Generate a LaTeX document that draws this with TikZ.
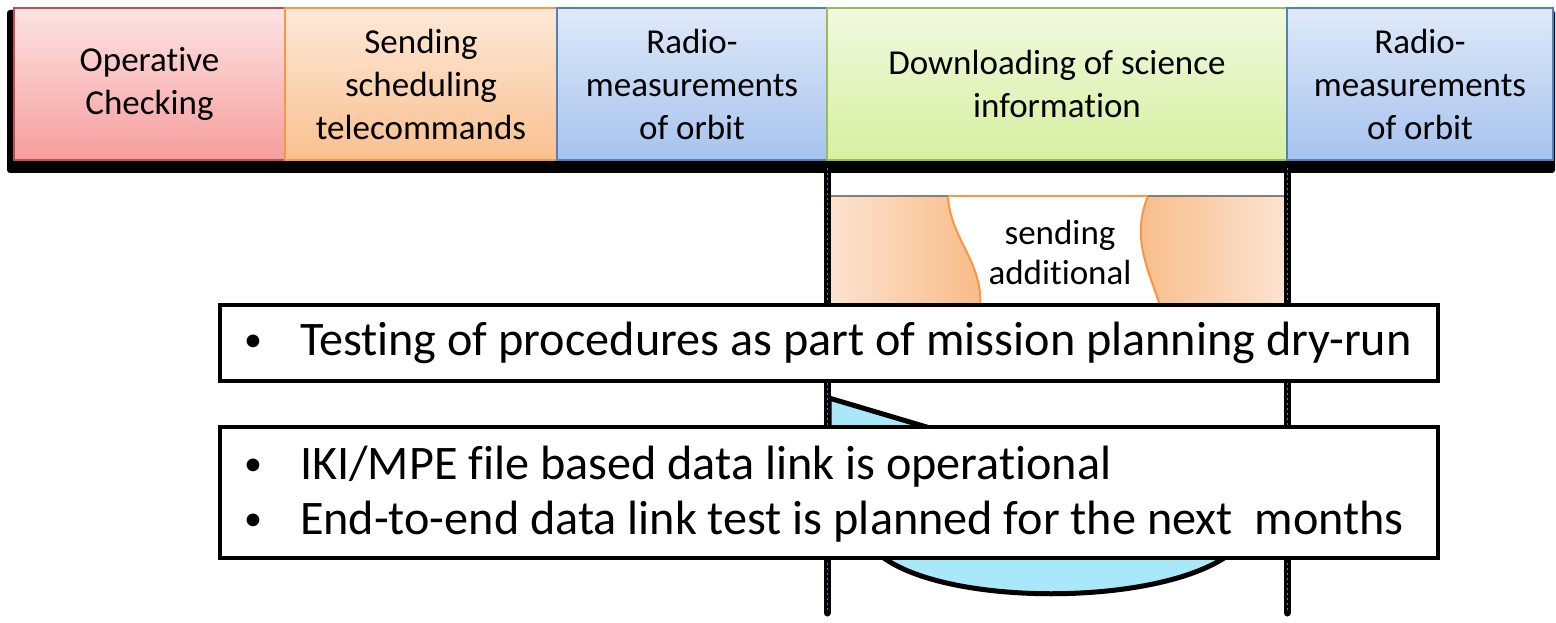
\documentclass[tikz,border=0pt]{standalone}
\usepackage{fontspec}
\setmainfont{Carlito}[Ligatures={NoCommon}]
\usetikzlibrary{calc}

\definecolor{pinkTop}{HTML}{FDE3E3}
\definecolor{pinkBot}{HTML}{F69D9D}
\definecolor{pinkLine}{HTML}{C0504D}
\definecolor{orTop}{HTML}{FDE9D8}
\definecolor{orBot}{HTML}{FAC08F}
\definecolor{orLine}{HTML}{F79646}
\definecolor{blTop}{HTML}{DFE9F9}
\definecolor{blBot}{HTML}{A6C3EE}
\definecolor{blLine}{HTML}{4F81BD}
\definecolor{grTop}{HTML}{F1F9DF}
\definecolor{grBot}{HTML}{D6F0A0}
\definecolor{grLine}{HTML}{9BBB59}
\definecolor{orLight}{HTML}{FCE4D2}
\definecolor{orDark}{HTML}{F8BB86}
\definecolor{cyanFill}{HTML}{A8E8F8}

\tikzset{
  phase/.style n args={3}{top color=#1, bottom color=#2, draw=#3, line width=1.5pt,
    minimum height=152pt, align=center, font=\fontsize{35}{43}\selectfont},
  notebox/.style={draw=black, line width=4pt, fill=white, minimum width=1218pt},
  bullettxt/.style={font=\fontsize{36}{44}\selectfont},
  linetxt/.style={anchor=west, font=\fontsize{48.2}{55}\selectfont},
  railblack/.style={line width=7pt, line cap=round, black},
  raildash/.style={line width=1pt, blLine, dash pattern=on 2pt off 3pt},
}

\begin{document}
\begin{tikzpicture}[x=1pt, y=-1pt, every node/.append style={inner sep=0pt, outer sep=0pt}]
\useasboundingbox (0,0) rectangle (1556,623);
\fill[white] (0,0) rectangle (1556,623);

% shadow behind the timeline
\fill[black, rounded corners=3pt] (7,10) rectangle (1555,173);

% timeline phases
\node[phase={pinkTop}{pinkBot}{pinkLine}, minimum width=271pt] (op) at (149.5,84) {Operative\\Checking};
\node[phase={orTop}{orBot}{orLine}, minimum width=272pt] (sch) at (421,84) {Sending\\scheduling\\telecommands};
\node[phase={blTop}{blBot}{blLine}, minimum width=270pt] (rad1) at (692,84) {Radio-\\measurements\\of orbit};
\node[phase={grTop}{grBot}{grLine}, minimum width=460pt] (down) at (1057,84) {Downloading of science\\information};
\node[phase={blTop}{blBot}{blLine}, minimum width=266pt] (rad2) at (1420,84) {Radio-\\measurements\\of orbit};

% additional upload window below the downlink phase
\shade[left color=orLight, right color=orDark]
  (825,196) -- (948,196) .. controls (950,240) and (985,262) .. (980,312) -- (825,312) -- cycle;
\shade[left color=orDark, right color=orLight]
  (1148,196) .. controls (1130,240) and (1150,272) .. (1162,312) -- (1289,312) -- (1289,196) -- cycle;
\draw[orLine, line width=2pt] (948,196) .. controls (950,240) and (985,262) .. (980,312);
\draw[orLine, line width=2pt] (1148,196) .. controls (1130,240) and (1150,272) .. (1162,312);
\draw[orLine, line width=2.5pt] (948,196) -- (1148,196);
\draw[gray, line width=2pt] (825,196) -- (948,196);
\draw[gray, line width=2pt] (1148,196) -- (1289,196);
\node[align=center, font=\fontsize{35}{40}\selectfont] (send) at (1060,252) {sending\\additional};

% cyan segment
\filldraw[fill=cyanFill, draw=black, line width=5pt, line join=round]
  (829,398) -- (930,428) -- (1230,470) -- (1240,545)
  .. controls (1180,610) and (920,610) .. (870,545) -- (829,480) -- cycle;

% vertical rails
\coordinate (r1a) at (827,168);
\coordinate (r1b) at (827,613);
\coordinate (r2a) at (1287,168);
\coordinate (r2b) at (1287,613);
\draw[railblack] (r1a) -- (r1b);
\draw[railblack] (r2a) -- (r2b);
\draw[raildash] (r1a) -- (r1b);
\draw[raildash] (r2a) -- (r2b);

% note boxes
\node[notebox, minimum height=76pt] (note1) at (829,343) {};
\node[bullettxt] (bA) at (253,343) {\textbullet};
\node[linetxt] (tA) at (300,343) {Testing of procedures as part of mission planning dry-run};

\node[notebox, minimum height=131pt] (note2) at (829,492.5) {};
\node[bullettxt] (bB) at (253,467) {\textbullet};
\node[linetxt] (tB) at (300,467) {IKI/MPE file based data link is operational};
\node[bullettxt] (bC) at (253,522) {\textbullet};
\node[linetxt] (tC) at (300,522) {End-to-end data link test is planned for the next\ \ months};
\end{tikzpicture}
\end{document}
